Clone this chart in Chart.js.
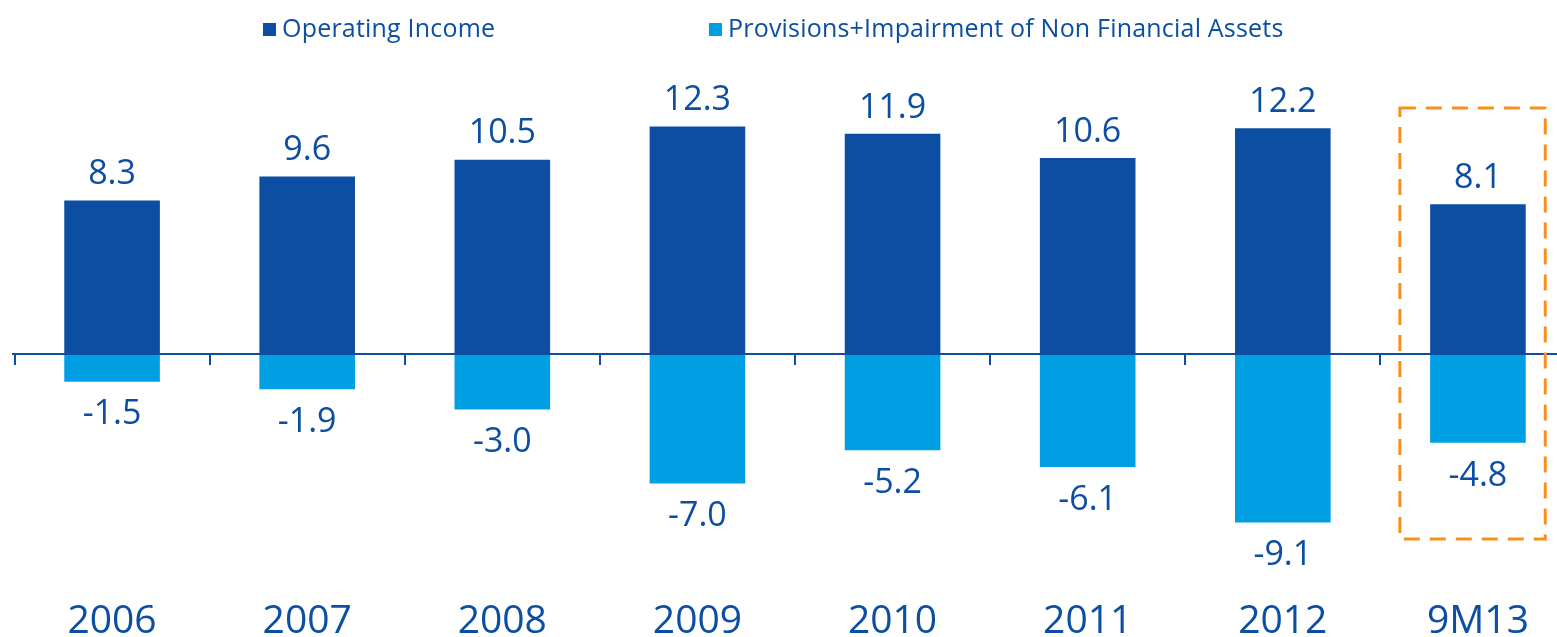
<!DOCTYPE html>
<html>
<head>
<meta charset="utf-8">
<script src="https://cdn.jsdelivr.net/npm/chart.js@4.4.1/dist/chart.umd.min.js"></script>
<style>
    html, body { margin: 0; padding: 0; background: #fff; overflow: hidden; width: 1557px; height: 637px; }
    #wrap { position: relative; width: 1557px; height: 637px; overflow: hidden; }
    #chart { position: absolute; left: 0; top: 0; }
    .legend { position: absolute; top: 10px; font-family: "Open Sans", sans-serif; font-size: 25px; letter-spacing: 0.2px; color: #0b4ea2; line-height: 34px; white-space: nowrap; }
    .legend span.box { display: inline-block; width: 13px; height: 13px; margin-right: 6px; vertical-align: 1px; }
</style>
</head>
<body>
<div id="wrap">
    <canvas id="chart" width="1577" height="637"></canvas>
    <div class="legend" style="left:263px"><span class="box" style="background:#0b4ea2"></span>Operating Income</div>
    <div class="legend" style="left:709px"><span class="box" style="background:#009fe3"></span>Provisions+Impairment of Non Financial Assets</div>
</div>
<script>
    const categories = ['2006', '2007', '2008', '2009', '2010', '2011', '2012', '9M13'];
    const operatingIncome = [8.3, 9.6, 10.5, 12.3, 11.9, 10.6, 12.2, 8.1];
    const provisions = [-1.5, -1.9, -3.0, -7.0, -5.2, -6.1, -9.1, -4.8];
    const highlighted = '9M13';

    const darkBlue = '#0b4ea2';
    const lightBlue = '#009fe3';
    const orange = '#f7901e';

    const decorations = {
        id: 'decorations',
        afterDatasetsDraw(chart) {
            const ctx = chart.ctx;
            const x = chart.scales.x;
            const y = chart.scales.y;
            const zero = y.getPixelForValue(0);
            const step = x.getPixelForValue(1) - x.getPixelForValue(0);

            ctx.save();

            // zero axis line
            ctx.strokeStyle = darkBlue;
            ctx.lineWidth = 2;
            ctx.beginPath();
            ctx.moveTo(12, zero);
            ctx.lineTo(chart.width, zero);
            ctx.stroke();

            // tick marks between categories
            for (let i = 0; i < categories.length; i++) {
                const bx = Math.round(x.getPixelForValue(i) - step / 2);
                ctx.beginPath();
                ctx.moveTo(bx, zero);
                ctx.lineTo(bx, zero + 11);
                ctx.stroke();
            }

            // value labels (minus drawn as en dash, like the original)
            ctx.fillStyle = darkBlue;
            ctx.font = '34px "Open Sans", sans-serif';
            ctx.textAlign = 'center';
            chart.getDatasetMeta(0).data.forEach((bar, i) => {
                ctx.textBaseline = 'bottom';
                ctx.fillText(operatingIncome[i].toFixed(1), bar.x, bar.y - 9);
            });
            chart.getDatasetMeta(1).data.forEach((bar, i) => {
                ctx.textBaseline = 'top';
                ctx.fillText(provisions[i].toFixed(1), bar.x, bar.y + 16);
            });

            // dashed highlight box
            const hi = categories.indexOf(highlighted);
            const cx = x.getPixelForValue(hi);
            ctx.strokeStyle = orange;
            ctx.lineWidth = 3;
            ctx.setLineDash([16, 10]);
            ctx.strokeRect(cx - step * 0.4, y.getPixelForValue(13.3), step * 0.745, y.getPixelForValue(-10) - y.getPixelForValue(13.3));

            ctx.restore();
        }
    };

    new Chart(document.getElementById('chart'), {
        type: 'bar',
        data: {
            labels: categories,
            datasets: [
                { label: 'Operating Income', data: operatingIncome, backgroundColor: darkBlue },
                { label: 'Provisions+Impairment of Non Financial Assets', data: provisions, backgroundColor: lightBlue }
            ]
        },
        options: {
            responsive: false,
            animation: false,
            categoryPercentage: 1,
            barPercentage: 0.49,
            layout: { padding: { left: 14.5, right: 1.5, top: 95, bottom: -23 } },
            plugins: {
                legend: { display: false },
                tooltip: { enabled: false }
            },
            scales: {
                x: {
                    stacked: true,
                    grid: { display: false },
                    border: { display: false },
                    ticks: {
                        color: darkBlue,
                        padding: 21,
                        font: { family: '"Open Sans", sans-serif', size: 39, lineHeight: 0.87 }
                    }
                },
                y: {
                    display: false,
                    stacked: true,
                    min: -12,
                    max: 14
                }
            }
        },
        plugins: [decorations]
    });
</script>
</body>
</html>
